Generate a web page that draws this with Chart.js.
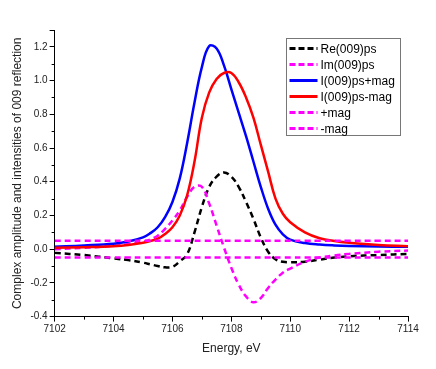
<!DOCTYPE html>
<html>
<head>
<meta charset="utf-8">
<script src="https://cdn.jsdelivr.net/npm/chart.js@4"></script>
<style>
  html, body { margin: 0; padding: 0; background: #fff; }
  #wrap { width: 436px; height: 369px; }
</style>
</head>
<body>
<div id="wrap"><canvas id="myChart" width="436" height="369"></canvas></div>
<script>
// energy grid, eV
const energy = [7102, 7103, 7104, 7104.5, 7105, 7105.25, 7105.5, 7105.75, 7106, 7106.25, 7106.5, 7106.75, 7107, 7107.25, 7107.5, 7107.75, 7108, 7108.25, 7108.5, 7108.75, 7109, 7109.25, 7109.5, 7109.75, 7110, 7110.5, 7111, 7111.5, 7112, 7113, 7114]

const reAmp    = [-0.022, -0.035, -0.055, -0.065, -0.08, -0.09, -0.1, -0.108, -0.105, -0.072, -0.03, 0.1, 0.25, 0.37, 0.43, 0.455, 0.43, 0.37, 0.28, 0.18, 0.07, -0.015, -0.06, -0.075, -0.078, -0.074, -0.062, -0.05, -0.042, -0.035, -0.028]
const imAmp    = [0.0, 0.008, 0.02, 0.03, 0.045, 0.058, 0.08, 0.12, 0.17, 0.23, 0.31, 0.37, 0.37, 0.27, 0.14, 0.01, -0.11, -0.21, -0.28, -0.315, -0.29, -0.23, -0.18, -0.14, -0.115, -0.075, -0.05, -0.037, -0.028, -0.015, -0.008]
const intPlus  = [0.015, 0.022, 0.032, 0.045, 0.07, 0.095, 0.13, 0.19, 0.28, 0.42, 0.63, 0.87, 1.08, 1.205, 1.19, 1.09, 0.95, 0.81, 0.67, 0.52, 0.37, 0.24, 0.145, 0.088, 0.057, 0.036, 0.027, 0.022, 0.019, 0.016, 0.014]
const intMinus = [0.008, 0.012, 0.018, 0.025, 0.038, 0.048, 0.062, 0.09, 0.13, 0.2, 0.32, 0.52, 0.78, 0.93, 1.01, 1.045, 1.045, 0.99, 0.9, 0.78, 0.62, 0.46, 0.3, 0.21, 0.16, 0.1, 0.065, 0.048, 0.038, 0.025, 0.018]
const plusMag  = energy.map(() => 0.05)
const minusMag = energy.map(() => -0.05)

const names = ["Re(009)ps", "Im(009)ps", "I(009)ps+mag", "I(009)ps-mag", "+mag", "-mag"]
const colors = ["#000000", "#ff00ff", "#0000ff", "#ff0000", "#ff00ff", "#ff00ff"]
const dashed = [true, true, false, false, true, true]
const series = [reAmp, imAmp, intPlus, intMinus, plusMag, minusMag]

const FONT = "'Liberation Sans', Arial, sans-serif"

function toPoints(vals) {
  return vals.map((v, i) => ({ x: energy[i], y: v }))
}

let datasets = []
for (let i = 0; i < series.length; i++) {
  datasets.push({
    label: names[i],
    data: toPoints(series[i]),
    borderColor: colors[i],
    backgroundColor: colors[i],
    borderWidth: 2.5,
    borderDash: dashed[i] ? [6, 4] : [],
    pointRadius: 0,
    tension: 0.4,
    fill: false,
    order: series.length - i   // last series drawn on top
  })
}

// minor ticks + legend box
const extras = {
  id: "extras",
  afterDraw(chart) {
    const ctx = chart.ctx
    const xs = chart.scales.x, ys = chart.scales.y
    ctx.save()
    ctx.strokeStyle = "#000"
    ctx.lineWidth = 1
    for (let v = 7103; v < 7114; v += 2) {
      const px = Math.round(xs.getPixelForValue(v)) + 0.5
      ctx.beginPath(); ctx.moveTo(px, ys.bottom); ctx.lineTo(px, ys.bottom + 3); ctx.stroke()
    }
    for (let k = -3; k <= 13; k += 2) {
      const py = Math.round(ys.getPixelForValue(k / 10)) + 0.5
      ctx.beginPath(); ctx.moveTo(xs.left, py); ctx.lineTo(xs.left - 3, py); ctx.stroke()
    }

    // legend
    const bx = 286.5, by = 38.5, bw = 114, bh = 97
    ctx.strokeStyle = "#777"
    ctx.strokeRect(bx, by, bw, bh)
    ctx.font = "12px " + FONT
    ctx.textBaseline = "middle"
    for (let i = 0; i < names.length; i++) {
      const yy = by + 10 + i * 16
      ctx.strokeStyle = colors[i]
      ctx.lineWidth = 3
      ctx.setLineDash(dashed[i] ? [6, 3] : [])
      ctx.beginPath(); ctx.moveTo(bx + 3, yy); ctx.lineTo(bx + 31, yy); ctx.stroke()
      ctx.setLineDash([])
      ctx.fillStyle = "#000"
      ctx.fillText(names[i], bx + 34, yy + 1)
    }
    ctx.restore()
  }
}

new Chart(document.getElementById("myChart"), {
  type: "line",
  data: { datasets: datasets },
  options: {
    responsive: false,
    animation: false,
    layout: { padding: { top: 30, right: 28, left: 6, bottom: 9 } },
    plugins: { legend: { display: false }, tooltip: { enabled: false } },
    scales: {
      x: {
        type: "linear",
        min: 7102, max: 7114,
        border: { color: "#000", width: 1 },
        grid: { drawOnChartArea: false, color: "#000", tickLength: 5 },
        ticks: { stepSize: 2, color: "#222", font: { family: FONT, size: 10 }, padding: 2, maxRotation: 0,
          callback: v => String(v) },
        title: { display: true, text: "Energy, eV", color: "#222", font: { family: FONT, size: 12 }, padding: { top: 4 } }
      },
      y: {
        min: -0.4, max: 1.3,
        border: { color: "#000", width: 1 },
        grid: { drawOnChartArea: false, color: "#000", tickLength: 5 },
        ticks: {
          stepSize: 0.2, color: "#222", font: { family: FONT, size: 10 }, padding: 2,
          callback: v => Math.abs(v - 1.3) < 1e-6 ? "" : v.toFixed(1)
        },
        title: { display: true, text: "Complex amplitude and intensities of 009 reflection", color: "#222", font: { family: FONT, size: 12 }, padding: { bottom: 4 } }
      }
    }
  },
  plugins: [extras]
})
</script>
</body>
</html>
